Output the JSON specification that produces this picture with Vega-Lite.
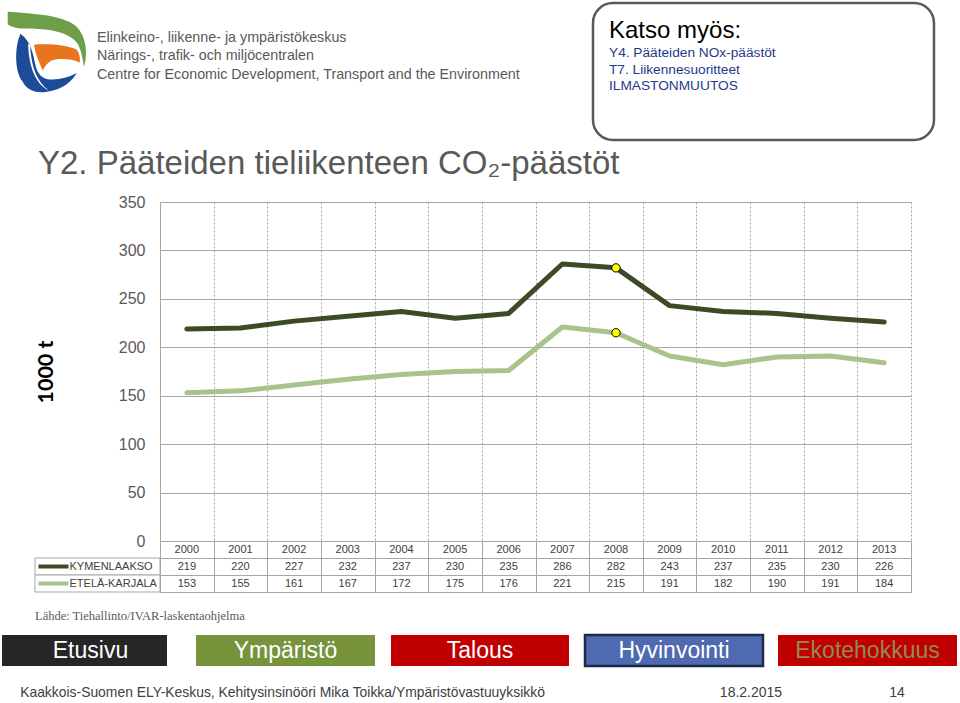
{
  "$schema": "https://vega.github.io/schema/vega-lite/v6.json",
  "background": "white",
  "padding": {"left": 2, "top": 1, "right": 0, "bottom": 0},
  "bounds": "flush",
  "spacing": 0,
  "config": {
    "view": {"stroke": null},
    "font": "Liberation Sans",
    "title": {"font": "Liberation Sans", "fontWeight": "normal"},
    "text": {"font": "Liberation Sans"},
    "axis": {"labelFont": "Liberation Sans", "titleFont": "Liberation Sans"}
  },
  "datasets": {
    "emissions": [
      {"year": 2000, "series": "KYMENLAAKSO", "value": 219},
      {"year": 2001, "series": "KYMENLAAKSO", "value": 220},
      {"year": 2002, "series": "KYMENLAAKSO", "value": 227},
      {"year": 2003, "series": "KYMENLAAKSO", "value": 232},
      {"year": 2004, "series": "KYMENLAAKSO", "value": 237},
      {"year": 2005, "series": "KYMENLAAKSO", "value": 230},
      {"year": 2006, "series": "KYMENLAAKSO", "value": 235},
      {"year": 2007, "series": "KYMENLAAKSO", "value": 286},
      {"year": 2008, "series": "KYMENLAAKSO", "value": 282},
      {"year": 2009, "series": "KYMENLAAKSO", "value": 243},
      {"year": 2010, "series": "KYMENLAAKSO", "value": 237},
      {"year": 2011, "series": "KYMENLAAKSO", "value": 235},
      {"year": 2012, "series": "KYMENLAAKSO", "value": 230},
      {"year": 2013, "series": "KYMENLAAKSO", "value": 226},
      {"year": 2000, "series": "ETELÄ-KARJALA", "value": 153},
      {"year": 2001, "series": "ETELÄ-KARJALA", "value": 155},
      {"year": 2002, "series": "ETELÄ-KARJALA", "value": 161},
      {"year": 2003, "series": "ETELÄ-KARJALA", "value": 167},
      {"year": 2004, "series": "ETELÄ-KARJALA", "value": 172},
      {"year": 2005, "series": "ETELÄ-KARJALA", "value": 175},
      {"year": 2006, "series": "ETELÄ-KARJALA", "value": 176},
      {"year": 2007, "series": "ETELÄ-KARJALA", "value": 221},
      {"year": 2008, "series": "ETELÄ-KARJALA", "value": 215},
      {"year": 2009, "series": "ETELÄ-KARJALA", "value": 191},
      {"year": 2010, "series": "ETELÄ-KARJALA", "value": 182},
      {"year": 2011, "series": "ETELÄ-KARJALA", "value": 190},
      {"year": 2012, "series": "ETELÄ-KARJALA", "value": 191},
      {"year": 2013, "series": "ETELÄ-KARJALA", "value": 184}
    ],
    "logo": [{"part": "green"}, {"part": "orange"}, {"part": "blue"}, {"part": "stripe"}]
  },
  "vconcat": [
    {
      "bounds": "flush", "spacing": 0,
      "hconcat": [
        {
          "width": 92, "height": 102,
          "data": {"name": "logo"},
          "mark": {"type": "point", "size": 7200, "opacity": 1, "filled": true, "strokeWidth": 0},
          "encoding": {
            "shape": {"field": "part", "type": "nominal", "legend": null, "scale": {"domain": ["green", "orange", "blue", "stripe"], "range": [
              "M-0.95,-1 C-0.5,-0.95 0.2,-0.95 0.6,-0.7 C0.9,-0.5 0.95,0 0.85,0.3 C0.8,0 0.75,-0.25 0.6,-0.35 C0.35,-0.55 -0.1,-0.6 -0.55,-0.6 C-0.75,-0.6 -0.9,-0.65 -0.95,-0.7 Z",
              "M-0.33,-0.22 C0.05,-0.25 0.5,-0.2 0.68,-0.1 C0.75,0 0.76,0.1 0.75,0.2 C0.55,0.1 0.25,0.1 0.1,0.15 C0,0.2 -0.1,0.3 -0.12,0.4 C-0.2,0.2 -0.3,0 -0.33,-0.22 Z",
              "M-0.65,-0.48 C-0.78,-0.2 -0.8,0.4 -0.6,0.65 C-0.5,0.85 -0.3,0.92 -0.1,0.9 C0.2,0.88 0.5,0.75 0.68,0.45 C0.5,0.55 0.3,0.6 0.1,0.6 C-0.1,0.62 -0.25,0.5 -0.3,0.25 C-0.35,0 -0.4,-0.3 -0.65,-0.48 Z",
              "M-0.47,-0.25 C-0.45,0.3 -0.3,0.7 0.02,0.86 C-0.26,0.66 -0.4,0.3 -0.42,-0.2 Z"
            ]}},
            "fill": {"field": "part", "type": "nominal", "legend": null, "scale": {"domain": ["green", "orange", "blue", "stripe"], "range": ["#6E9E48", "#E8741E", "#1D4B9A", "#FFFFFF"]}}
          }
        },
        {
          "width": 499, "height": 137,
          "data": {"values": []},
          "mark": "text",
          "title": {
            "text": ["Elinkeino-, liikenne- ja ympäristökeskus", "Närings-, trafik- och miljöcentralen", "Centre for Economic Development, Transport and the Environment"],
            "anchor": "start", "frame": "group", "dx": 3, "offset": -79,
            "fontSize": 14.3, "lineHeight": 18.3, "color": "#595959", "fontWeight": "normal"
          }
        },
        {
          "width": 341, "height": 137,
          "view": {"stroke": "#595959", "strokeWidth": 2.5, "cornerRadius": 20, "fill": "white"},
          "data": {"values": []},
          "mark": "text",
          "title": {
            "text": "Katso myös:",
            "subtitle": ["Y4. Pääteiden NOx-päästöt", "T7. Liikennesuoritteet", "ILMASTONMUUTOS"],
            "anchor": "start", "frame": "group", "dx": 16, "offset": -90,
            "fontSize": 24, "color": "#000000", "fontWeight": "normal",
            "subtitleFontSize": 13.7, "subtitleColor": "#1F3A8A", "subtitleLineHeight": 16.7, "subtitlePadding": 3,
            "subtitleFont": "Liberation Sans"
          }
        }
      ]
    },
    {"width": 1, "height": 199, "data": {"values": []}, "mark": "text"},
    {
      "bounds": "flush", "spacing": 0,
      "hconcat": [
        {"width": 158, "height": 339, "data": {"values": []}, "mark": "text"},
        {
          "width": 751, "height": 339,
          "data": {"name": "emissions"},
          "title": {
            "text": "Y2. Pääteiden tieliikenteen CO₂-päästöt",
            "anchor": "start", "frame": "group", "dx": -122, "offset": 13,
            "fontSize": 33, "color": "#595959", "fontWeight": "normal"
          },
          "layer": [
            {
              "mark": {"type": "line", "strokeWidth": 5, "strokeCap": "round", "strokeJoin": "round"},
              "encoding": {
                "x": {"field": "year", "type": "ordinal", "bandPosition": 0.5,
                  "scale": {"type": "band", "paddingInner": 0, "paddingOuter": 0},
                  "axis": {"title": null, "labels": false, "ticks": false, "domain": false, "grid": true, "tickBand": "extent", "gridDash": [2, 2], "gridColor": "#A6A6A6", "gridWidth": 1}},
                "y": {"field": "value", "type": "quantitative",
                  "scale": {"domain": [0, 350]},
                  "axis": {"values": [0, 50, 100, 150, 200, 250, 300, 350], "title": "1000 t", "titleFont": "Lato", "titleFontSize": 21.5, "titleFontWeight": "bold", "titleColor": "#000000", "titlePadding": 61,
                    "labelFontSize": 16, "labelColor": "#595959", "labelPadding": 15, "ticks": false, "domain": true, "domainColor": "#A6A6A6", "grid": true, "gridColor": "#A6A6A6"}},
                "color": {"field": "series", "type": "nominal", "legend": null,
                  "scale": {"domain": ["KYMENLAAKSO", "ETELÄ-KARJALA"], "range": ["#3C4B25", "#A8C48A"]}}
              }
            },
            {
              "transform": [{"filter": "datum.year == 2008"}],
              "mark": {"type": "point", "filled": true, "fill": "#FFFF00", "stroke": "#000000", "strokeWidth": 1, "size": 70, "opacity": 1},
              "encoding": {
                "x": {"field": "year", "type": "ordinal", "bandPosition": 0.5},
                "y": {"field": "value", "type": "quantitative"}
              }
            }
          ]
        }
      ]
    },
    {"width": 1, "height": 339, "data": {"values": []}, "mark": "text"},
    {
      "bounds": "flush", "spacing": 0,
      "hconcat": [
        {"width": 33, "height": 51, "data": {"values": []}, "mark": "text"},
        {
          "width": 125, "height": 51,
          "data": {"name": "emissions"},
          "transform": [{"filter": "datum.year == 2000"}],
          "title": {
            "text": "Lähde: Tiehallinto/IVAR-laskentaohjelma",
            "orient": "bottom", "anchor": "start", "frame": "group", "offset": 17,
            "font": "Liberation Serif", "fontSize": 12.5, "fontWeight": "normal", "color": "#595959"
          },
          "mark": {"type": "rect", "fill": "white", "stroke": "#A6A6A6", "strokeWidth": 1},
          "encoding": {
            "y": {"field": "series", "type": "nominal",
              "scale": {"type": "band", "domain": ["hdr", "KYMENLAAKSO", "ETELÄ-KARJALA"], "paddingInner": 0, "paddingOuter": 0},
              "axis": {"values": ["KYMENLAAKSO", "ETELÄ-KARJALA"], "orient": "left", "offset": -33, "domain": false, "grid": false, "title": null,
                "ticks": true, "tickSize": 30, "tickWidth": 4,
                "tickColor": {"condition": {"test": "datum.value === 'KYMENLAAKSO'", "value": "#3C4B25"}, "value": "#A8C48A"},
                "labelAlign": "left", "labelPadding": -31, "labelFontSize": 11, "labelColor": "#404040"}}
          }
        },
        {
          "width": 751, "height": 51,
          "data": {"name": "emissions"},
          "layer": [
            {
              "mark": {"type": "text", "fontSize": 11, "color": "#404040"},
              "encoding": {
                "x": {"field": "year", "type": "ordinal", "bandPosition": 0.5,
                  "scale": {"type": "band", "paddingInner": 0, "paddingOuter": 0},
                  "axis": {"title": null, "labels": false, "ticks": false, "domain": false, "grid": true, "tickBand": "extent", "gridColor": "#A6A6A6", "orient": "top"}},
                "y": {"field": "series", "type": "nominal", "bandPosition": 0.5,
                  "scale": {"type": "band", "domain": ["hdr", "KYMENLAAKSO", "ETELÄ-KARJALA"], "paddingInner": 0, "paddingOuter": 0},
                  "axis": {"title": null, "labels": false, "ticks": false, "domain": false, "grid": true, "tickBand": "extent", "gridColor": "#A6A6A6"}},
                "text": {"field": "value", "type": "nominal"}
              }
            },
            {
              "transform": [{"filter": "datum.series == 'KYMENLAAKSO'"}],
              "mark": {"type": "text", "fontSize": 11, "color": "#404040"},
              "encoding": {
                "x": {"field": "year", "type": "ordinal", "bandPosition": 0.5},
                "y": {"datum": "hdr", "type": "nominal", "bandPosition": 0.5},
                "text": {"field": "year", "type": "nominal"}
              }
            }
          ]
        }
      ]
    },
    {"width": 1, "height": 94, "data": {"values": []}, "mark": "text"},
    {
      "bounds": "flush", "spacing": 0,
      "hconcat": [
        {"width": 165, "height": 31, "view": {"fill": "#262626"}, "data": {"values": [{"label": "Etusivu"}]}, "mark": {"type": "text", "fontSize": 23, "color": "#FFFFFF", "dx": 6}, "encoding": {"text": {"field": "label"}}},
        {"width": 29, "height": 31, "data": {"values": []}, "mark": "text"},
        {"width": 179, "height": 31, "view": {"fill": "#77933C"}, "data": {"values": [{"label": "Ympäristö"}]}, "mark": {"type": "text", "fontSize": 23, "color": "#FFFFFF"}, "encoding": {"text": {"field": "label"}}},
        {"width": 16, "height": 31, "data": {"values": []}, "mark": "text"},
        {"width": 178, "height": 31, "view": {"fill": "#C00000"}, "data": {"values": [{"label": "Talous"}]}, "mark": {"type": "text", "fontSize": 23, "color": "#FFFFFF"}, "encoding": {"text": {"field": "label"}}},
        {"width": 16, "height": 31, "data": {"values": []}, "mark": "text"},
        {"width": 178, "height": 31, "view": {"fill": "#4F6AB0", "stroke": "#1B2A47", "strokeWidth": 2.5}, "data": {"values": [{"label": "Hyvinvointi"}]}, "mark": {"type": "text", "fontSize": 23, "color": "#FFFFFF"}, "encoding": {"text": {"field": "label"}}},
        {"width": 15, "height": 31, "data": {"values": []}, "mark": "text"},
        {"width": 179, "height": 31, "view": {"fill": "#C00000"}, "data": {"values": [{"label": "Ekotehokkuus"}]}, "mark": {"type": "text", "fontSize": 23, "color": "#948A54"}, "encoding": {"text": {"field": "label"}}}
      ]
    },
    {"width": 1, "height": 48, "data": {"values": []}, "mark": "text"},
    {
      "bounds": "flush", "spacing": 0,
      "hconcat": [
        {"width": 20, "height": 20, "data": {"values": []}, "mark": "text"},
        {"width": 521, "height": 20, "data": {"values": [{"t": "Kaakkois-Suomen ELY-Keskus, Kehitysinsinööri Mika Toikka/Ympäristövastuuyksikkö"}]}, "mark": {"type": "text", "fontSize": 13.9, "color": "#404040"}, "encoding": {"text": {"field": "t"}}},
        {"width": 177, "height": 20, "data": {"values": []}, "mark": "text"},
        {"width": 62, "height": 20, "data": {"values": [{"t": "18.2.2015"}]}, "mark": {"type": "text", "fontSize": 14, "color": "#404040"}, "encoding": {"text": {"field": "t"}}},
        {"width": 85, "height": 20, "data": {"values": []}, "mark": "text"},
        {"width": 60, "height": 20, "data": {"values": [{"t": "14"}]}, "mark": {"type": "text", "fontSize": 14, "color": "#404040"}, "encoding": {"text": {"field": "t"}}}
      ]
    },
    {"width": 1, "height": 20, "data": {"values": []}, "mark": "text"}
  ]
}
